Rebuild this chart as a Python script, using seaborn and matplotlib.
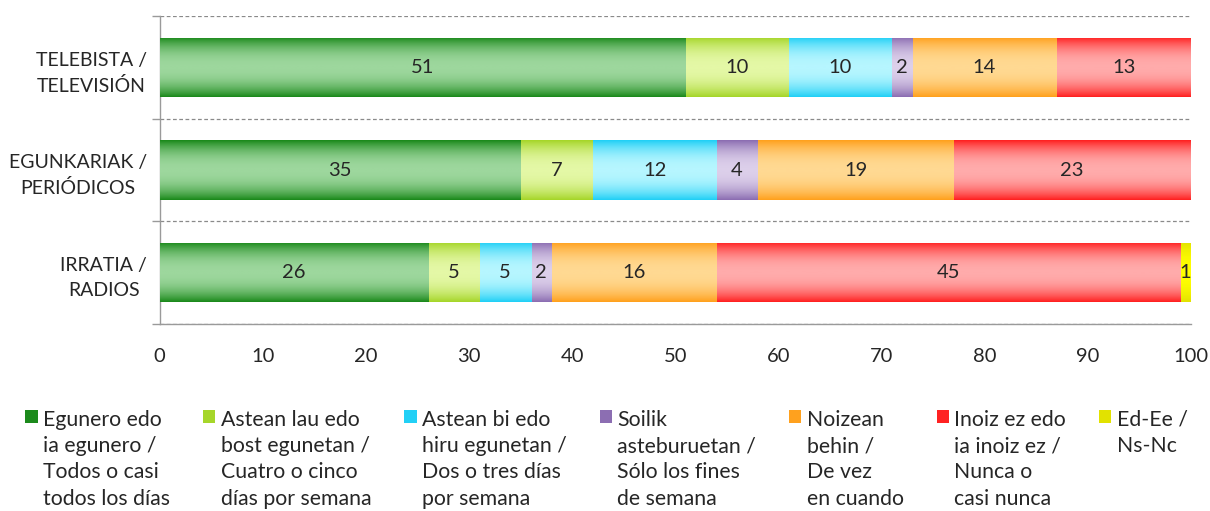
import numpy as np
import pandas as pd
import seaborn as sns
import matplotlib.pyplot as plt
from matplotlib.colors import LinearSegmentedColormap
from matplotlib.patches import Patch


media = ['TELEBISTA /\nTELEVISIÓN', 'EGUNKARIAK /\nPERIÓDICOS', 'IRRATIA /\nRADIOS']

daily = [51, 35, 26]
four_five = [10, 7, 5]
two_three = [10, 12, 5]
weekends = [2, 4, 2]
sometimes = [14, 19, 16]
never = [13, 23, 45]
nsnc = [0, 0, 1]

legend_labels = [
    'Egunero edo\nia egunero /\nTodos o casi\ntodos los días',
    'Astean lau edo\nbost egunetan /\nCuatro o cinco\ndías por semana',
    'Astean bi edo\nhiru egunetan /\nDos o tres días\npor semana',
    'Soilik\nasteburuetan /\nSólo los fines\nde semana',
    'Noizean\nbehin /\nDe vez\nen cuando',
    'Inoiz ez edo\nia inoiz ez /\nNunca o\ncasi nunca',
    'Ed-Ee /\nNs-Nc',
]

# (edge colour, centre colour) for the excel-like gradient
dark = ['#1c8a1c', '#a6d62a', '#22d0f6', '#8c6eb2', '#ffa11e', '#ff2222', '#e2e200']
light = ['#9dd79d', '#e4f8a6', '#b6f6ff', '#dccfea', '#ffd992', '#ffabab', '#ffff00']

sns.set_style('white')
plt.rcParams['font.family'] = ['Lato', 'DejaVu Sans']
text_col = '#262626'

series = [daily, four_five, two_three, weekends, sometimes, never, nsnc]
cum = np.cumsum(np.array(series), axis=0)
n = len(series)

fig, ax = plt.subplots(figsize=(12.1, 5.11), dpi=100)
fig.subplots_adjust(left=0.132, right=0.984, top=0.968, bottom=0.366)

prof = np.abs(np.linspace(-1, 1, 64)) ** 2.2

# draw the cumulative totals from the widest down, so each layer shows one segment
for k in reversed(range(n)):
    z = 2 + (n - k)
    df = pd.DataFrame({'medium': media, 'total': cum[k]})
    n_before = len(ax.patches)
    sns.barplot(data=df, x='total', y='medium', order=media, orient='h',
                color=light[k], width=0.58, linewidth=0, saturation=1,
                zorder=z, ax=ax)
    cmap = LinearSegmentedColormap.from_list('g%d' % k, [light[k], dark[k]])
    for p in ax.patches[n_before:]:
        p.set_zorder(z)
        x0, y0 = p.get_x(), p.get_y()
        w, h = p.get_width(), p.get_height()
        im = ax.imshow(prof[:, None], cmap=cmap, vmin=0, vmax=1, aspect='auto',
                       extent=(x0, x0 + w, y0 + h, y0), zorder=z + 0.5,
                       interpolation='bilinear')
        im.set_clip_path(p)

# segment labels
for k, vals in enumerate(series):
    for i, v in enumerate(vals):
        if v == 0:
            continue
        ax.text(cum[k][i] - v / 2, i, str(v), ha='center', va='center',
                fontsize=14.5, color=text_col, zorder=20)

ax.set_xlim(0, 100)
ax.set_ylim(2.5, -0.5)
ax.set_xlabel('')
ax.set_ylabel('')
ax.set_xticks(range(0, 101, 10))
ax.set_yticks([-0.5, 0.5, 1.5, 2.5], minor=True)
ax.tick_params(axis='x', length=6, width=1, color='#9a9a9a', labelsize=14.5,
               labelcolor=text_col, pad=11)
ax.tick_params(axis='y', which='major', length=0, labelsize=14,
               labelcolor=text_col, pad=9)
ax.tick_params(axis='y', which='minor', length=6, width=1, color='#9a9a9a', left=True)
for lab in ax.get_yticklabels():
    lab.set_multialignment('center')
    lab.set_linespacing(1.55)

ax.yaxis.grid(True, which='minor', linestyle=(0, (3, 2)), color='#8a8a8a', lw=0.9)
ax.xaxis.grid(False)
for s in ['top', 'right']:
    ax.spines[s].set_visible(False)
for s in ['left', 'bottom']:
    ax.spines[s].set_color('#9a9a9a')
    ax.spines[s].set_linewidth(1)

handles = [Patch(facecolor=dark[k], edgecolor='none') for k in range(n)]
leg = fig.legend(handles, legend_labels, loc='upper left', ncol=7,
                 bbox_to_anchor=(0.021, 0.198), frameon=False, fontsize=15.3,
                 handlelength=0.58, handleheight=0.58, handletextpad=0.25,
                 columnspacing=1.55, borderpad=0, borderaxespad=0)
for t in leg.get_texts():
    t.set_color(text_col)
    t.set_linespacing(1.39)
# excel puts the swatch next to the first line and tops the columns together
leg._legend_handle_box.align = 'top'
for col in leg._legend_handle_box.get_children():
    col.align = 'left'
    for item in col.get_children():
        item.align = 'top'

fig.savefig('out.png', dpi=100)
